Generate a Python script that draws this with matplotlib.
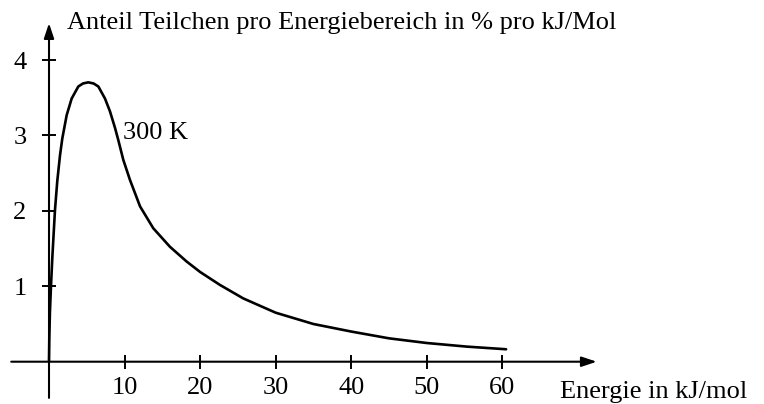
import matplotlib
matplotlib.use("Agg")
import matplotlib.pyplot as plt

# Data
energie = [0, 0.04, 0.12, 0.26, 0.45, 0.79, 1.1, 1.46, 1.76, 2.34, 3.0, 3.88,
           4.5, 5.2, 5.9, 6.53, 7.41, 8.07, 8.74, 9.17, 9.84, 10.72, 12.05,
           13.8, 16.0, 18.2, 20.0, 22.6, 25.7, 30.0, 35.0, 40.0, 45.0, 50.0,
           55.3, 60.5]
anteil = [0, 0.3, 0.65, 1.0, 1.4, 2.01, 2.4, 2.74, 2.96, 3.27, 3.49, 3.65,
          3.69, 3.705, 3.69, 3.65, 3.49, 3.32, 3.10, 2.94, 2.675, 2.41, 2.06,
          1.77, 1.525, 1.33, 1.19, 1.02, 0.84, 0.65, 0.50, 0.40, 0.31, 0.248,
          0.20, 0.165]
x_ticks = [10, 20, 30, 40, 50, 60]
y_ticks = [1, 2, 3, 4]
y_title = "Anteil Teilchen pro Energiebereich in % pro kJ/Mol"
x_title = "Energie in kJ/mol"
curve_label = "300 K"

plt.rcParams['font.family'] = ['Liberation Serif', 'DejaVu Serif']

fig = plt.figure(figsize=(7.64, 4.04), dpi=100)
ax = fig.add_axes([0, 0, 1, 1])
ax.set_xlim(-6.486, 94.64)
ax.set_ylim(-0.561, 4.797)
for s in ax.spines.values():
    s.set_visible(False)
ax.spines['left'].set_position(('data', 0))
ax.spines['bottom'].set_position(('data', 0))

# axes with arrows
ax.annotate('', xy=(72.5, 0), xytext=(-5.0, 0),
            arrowprops=dict(arrowstyle='-|>,head_length=0.9,head_width=0.3',
                            lw=1.5, color='black', shrinkA=0, shrinkB=0))
ax.annotate('', xy=(0, 4.49), xytext=(0, -0.48),
            arrowprops=dict(arrowstyle='-|>,head_length=0.9,head_width=0.3',
                            lw=1.5, color='black', shrinkA=0, shrinkB=0))

ax.set_xticks(x_ticks)
ax.set_yticks(y_ticks)
ax.set_xticklabels([str(t) for t in x_ticks])
ax.set_yticklabels([str(t) for t in y_ticks])
ax.tick_params(axis='both', direction='inout', length=10.5, width=1.4,
               labelsize=19, color='black', labelcolor='black')
ax.tick_params(axis='x', pad=6)
ax.tick_params(axis='y', pad=11)

ax.plot(energie, anteil, color='black', lw=1.9, solid_joinstyle='round',
        solid_capstyle='round')

ax.text(2.4, 4.41, y_title, fontsize=19, ha='left', va='baseline')
ax.text(67.6, -0.48, x_title, fontsize=19, ha='left', va='baseline')
ax.text(9.8, 2.95, curve_label, fontsize=19, ha='left', va='baseline')

fig.savefig('out.png', dpi=100)
